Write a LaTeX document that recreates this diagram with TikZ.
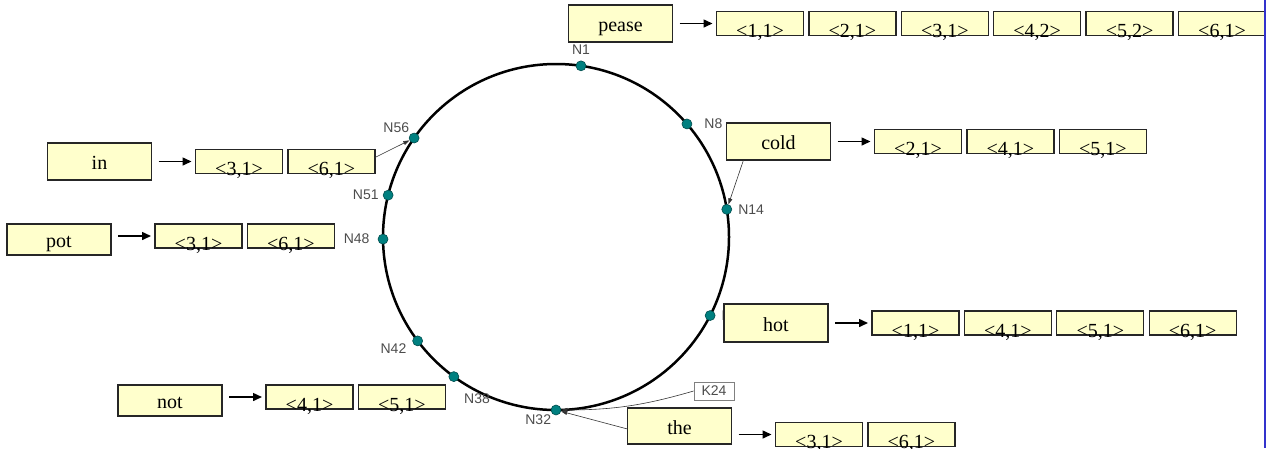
\documentclass[tikz,border=0pt]{standalone}
\usepackage{fontspec}
\setmainfont{Liberation Serif}
\setsansfont{Liberation Sans}
\usetikzlibrary{positioning,arrows.meta}
\definecolor{boxfill}{RGB}{255,255,204}
\definecolor{peerfill}{RGB}{0,128,128}
\definecolor{rulecol}{RGB}{51,51,204}
\newcommand{\posting}[1]{\raisebox{-14pt}[0pt][0pt]{\textless#1\textgreater}}

\begin{document}
\begin{tikzpicture}[x=1pt,y=1pt,
  word/.style={draw=black!85,line width=1.3pt,fill=boxfill,outer sep=0pt,inner sep=0pt,
    minimum width=104pt,minimum height=37pt,text height=20pt,text depth=4pt,
    font=\fontsize{20}{24}\selectfont},
  post/.style={draw=black!85,line width=1.3pt,fill=boxfill,outer sep=0pt,inner sep=0pt,
    minimum width=87pt,minimum height=24pt,font=\fontsize{20}{24}\selectfont},
  peer/.style={circle,draw=peerfill!60!black,fill=peerfill,line width=0.6pt,
    minimum size=10pt,inner sep=0pt},
  lbl/.style={font=\sffamily\fontsize{14}{16}\selectfont,text=black!70,inner sep=1pt},
  keybox/.style={draw=black!50,fill=white,line width=0.8pt,inner sep=0pt,
    minimum width=40pt,minimum height=18pt,font=\sffamily\fontsize{14}{16}\selectfont,text=black!70},
  link/.style={-{Triangle[length=9pt,width=8pt]},line width=1.5pt,shorten <=7pt,shorten >=4pt},
  ptr/.style={-{Triangle[length=6pt,width=4pt]},line width=0.6pt,black!80}]
  \useasboundingbox (0,0) rectangle (1268,-448);
  % Ring
  \coordinate (c) at (556,-237);
  \draw[line width=2.5pt] (c) circle [radius=173];
  \begin{scope}[shift={(c)}]
    \node[peer,label={[lbl,label distance=5pt]above:N1}] (n1) at (81.7:173) {};
    \node[peer,label={[lbl,label distance=11pt]right:N8}] (n8) at (40.8:173) {};
    \node[peer,label={[lbl,label distance=5pt]right:N14}] (n14) at (9.2:173) {};
    \node[peer,label={[lbl,label distance=5pt]right:N21}] (n21) at (-27:173) {};
    \node[peer,label={[lbl]below left:N32}] (n32) at (-90:173) {};
    \node[peer,label={[lbl,label distance=13pt]-60:N38}] (n38) at (-126.2:173) {};
    \node[peer,label={[lbl,label distance=5pt]190:N42}] (n42) at (-143.1:173) {};
    \node[peer,label={[lbl,label distance=7pt]left:N48}] (n48) at (180.7:173) {};
    \node[peer,label={[lbl,label distance=3pt]left:N51}] (n51) at (166:173) {};
    \node[peer,label={[lbl]above left:N56}] (n56) at (145.1:173) {};
  \end{scope}
  % pease
  \node[word] (pease) at (620.5,-23.5) {pease};
  \node[post,right=44pt of pease] (pease1) {\posting{1,1}};
  \node[post,right=5.4pt of pease1] (pease2) {\posting{2,1}};
  \node[post,right=5.4pt of pease2] (pease3) {\posting{3,1}};
  \node[post,right=5.4pt of pease3] (pease4) {\posting{4,2}};
  \node[post,right=5.4pt of pease4] (pease5) {\posting{5,2}};
  \node[post,right=5.4pt of pease5] (pease6) {\posting{6,1}};
  \draw[link] (pease1.west -| pease.east) -- (pease1.west);
  % cold
  \node[word] (cold) at (778.5,-141.5) {cold};
  \node[post,right=44pt of cold] (cold1) {\posting{2,1}};
  \node[post,right=5.4pt of cold1] (cold2) {\posting{4,1}};
  \node[post,right=5.4pt of cold2] (cold3) {\posting{5,1}};
  \draw[link] (cold1.west -| cold.east) -- (cold1.west);
  \draw[ptr] ([xshift=-35pt]cold.south) -- (n14);
  % in
  \node[word] (in) at (99.5,-161.5) {in};
  \node[post,right=44pt of in] (in1) {\posting{3,1}};
  \node[post,right=5.4pt of in1] (in2) {\posting{6,1}};
  \draw[link] (in1.west -| in.east) -- (in1.west);
  \draw[ptr] ([yshift=4pt]in2.east) -- (n56);
  % pot
  \node[word,minimum height=31pt] (pot) at (59,-239.5) {pot};
  \node[post,right=44pt of pot,yshift=3.5pt] (pot1) {\posting{3,1}};
  \node[post,right=5.4pt of pot1] (pot2) {\posting{6,1}};
  \draw[link] (pot1.west -| pot.east) -- (pot1.west);
  % hot
  \node[word,minimum height=38pt] (hot) at (776,-323) {hot};
  \node[post,right=44pt of hot] (hot1) {\posting{1,1}};
  \node[post,right=5.4pt of hot1] (hot2) {\posting{4,1}};
  \node[post,right=5.4pt of hot2] (hot3) {\posting{5,1}};
  \node[post,right=5.4pt of hot3] (hot4) {\posting{6,1}};
  \draw[link] (hot1.west -| hot.east) -- (hot1.west);
  % not
  \node[word,minimum height=31pt] (not) at (170,-400.5) {not};
  \node[post,right=44pt of not,yshift=3.5pt] (not1) {\posting{4,1}};
  \node[post,right=5.4pt of not1] (not2) {\posting{5,1}};
  \draw[link] (not1.west -| not.east) -- (not1.west);
  % the
  \node[keybox] (k24) at (714,-391) {K24};
  \draw[ptr] (k24.west) to[bend left=8] (n32);
  \node[word,minimum height=36pt] (the) at (679.5,-426) {the};
  \node[post,right=44pt of the,yshift=-8.5pt] (the1) {\posting{3,1}};
  \node[post,right=5.4pt of the1] (the2) {\posting{6,1}};
  \draw[link] (the1.west -| the.east) -- (the1.west);
  \draw[ptr] ([yshift=-3pt]the.west) -- (n32);
  % Rule
  \draw[rulecol,line width=2pt] (1265,0) -- (1265,-448);
\end{tikzpicture}
\end{document}
